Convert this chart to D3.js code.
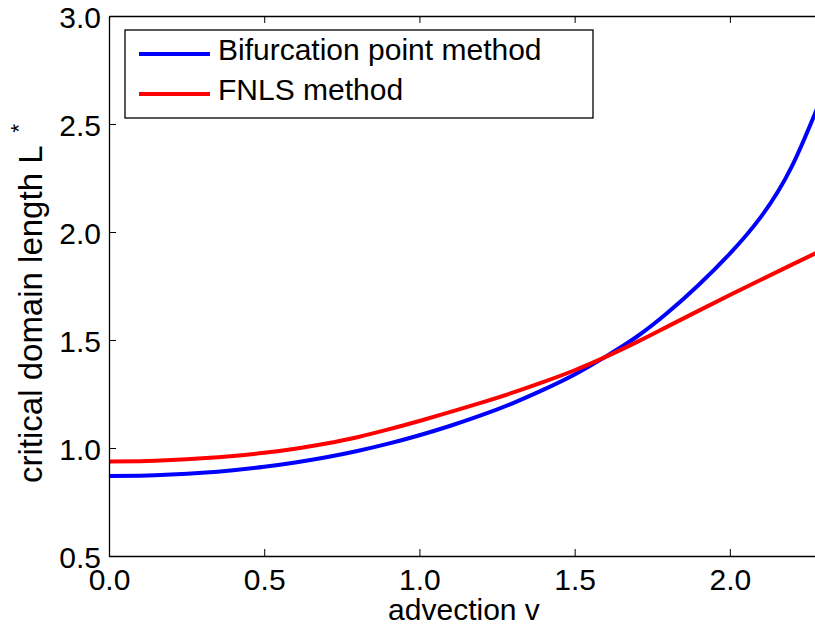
<!DOCTYPE html>
<html>
<head>
<meta charset="utf-8">
<script src="https://cdn.jsdelivr.net/npm/d3@7/dist/d3.min.js"></script>
<style>
  html, body { margin: 0; padding: 0; background: #fff; }
  svg { display: block; }
  text { font-family: "Liberation Sans", Arial, Helvetica, sans-serif; fill: #000; }
</style>
</head>
<body>
<svg id="chart" width="815" height="628"></svg>
<script>
// ---- data ----
const advection = [0.0, 0.1, 0.2, 0.3, 0.4, 0.5, 0.6, 0.7, 0.8, 0.9, 1.0, 1.1,
                   1.2, 1.3, 1.4, 1.5, 1.6, 1.7, 1.8, 1.9, 2.0, 2.1, 2.2, 2.3];
const bifurcationL = [0.870, 0.872, 0.877, 0.885, 0.897, 0.913, 0.933, 0.957, 0.986, 1.020, 1.059, 1.103,
                      1.152, 1.207, 1.270, 1.340, 1.423, 1.515, 1.627, 1.756, 1.900, 2.070, 2.305, 2.640];
const fnlsL = [0.937, 0.939, 0.944, 0.952, 0.963, 0.978, 0.997, 1.021, 1.050, 1.086, 1.125, 1.167,
               1.210, 1.256, 1.306, 1.360, 1.422, 1.490, 1.563, 1.636, 1.708, 1.779, 1.849, 1.918];
const seriesNames = ["Bifurcation point method", "FNLS method"];
const seriesColors = ["#0000ff", "#ff0000"];
const xTicks = [0, 0.5, 1.0, 1.5, 2.0];
const yTicks = [0.5, 1.0, 1.5, 2.0, 2.5, 3.0];
const xLabel = "advection v";
const yLabel = "critical domain length L";
const yLabelSup = "*";

// ---- layout ----
const svg = d3.select("#chart");
const pLeft = 109, pRight = 823, pTop = 16, pBottom = 556;
const x = d3.scaleLinear().domain([0, 2.3]).range([pLeft, pRight]);
const y = d3.scaleLinear().domain([0.5, 3.0]).range([pBottom, pTop]);
const fontSize = 30;

svg.append("defs").append("clipPath").attr("id", "clip")
  .append("rect").attr("x", pLeft).attr("y", pTop).attr("width", pRight - pLeft).attr("height", pBottom - pTop);

// curves
const series = [bifurcationL, fnlsL];
const line = d3.line().x((d, i) => x(advection[i])).y(d => y(d)).curve(d3.curveNatural);
const plot = svg.append("g").attr("clip-path", "url(#clip)");
series.forEach((s, k) => {
  plot.append("path").datum(s).attr("d", line)
    .attr("fill", "none").attr("stroke", seriesColors[k]).attr("stroke-width", 4)
    .attr("stroke-linejoin", "round");
});

// axes (MATLAB-like box with inward ticks)
const tickLen = 7;
const axB = svg.append("g").attr("transform", `translate(0,${pBottom})`)
  .call(d3.axisBottom(x).tickValues(xTicks).tickFormat(d3.format(".1f")).tickSizeInner(-tickLen).tickSizeOuter(0));
const axT = svg.append("g").attr("transform", `translate(0,${pTop})`)
  .call(d3.axisTop(x).tickValues(xTicks).tickFormat("").tickSizeInner(-tickLen).tickSizeOuter(0));
const axL = svg.append("g").attr("transform", `translate(${pLeft},0)`)
  .call(d3.axisLeft(y).tickValues(yTicks).tickFormat(d3.format(".1f")).tickSizeInner(-tickLen).tickSizeOuter(0));
const axR = svg.append("g").attr("transform", `translate(${pRight},0)`)
  .call(d3.axisRight(y).tickValues(yTicks).tickFormat("").tickSizeInner(-tickLen).tickSizeOuter(0));

[axB, axT, axL, axR].forEach(a => {
  a.attr("font-family", null).attr("font-size", null);
  a.select(".domain").attr("stroke", "#000").attr("stroke-width", 1.3);
  a.selectAll(".tick line").attr("stroke", "#000").attr("stroke-width", 1);
});
axB.selectAll(".tick text").attr("font-size", fontSize)
  .attr("y", 34).attr("dy", null).attr("text-anchor", "middle");
axL.selectAll(".tick text").attr("font-size", fontSize)
  .attr("x", -8).attr("dy", null).attr("y", 11).attr("text-anchor", "end");

// axis labels
svg.append("text").attr("x", (x(0) + x(2.3)) / 2 - 2).attr("y", 620)
  .attr("text-anchor", "middle").attr("font-size", fontSize).text(xLabel);

const yl = svg.append("text").attr("transform", "translate(42,483) rotate(-90)")
  .attr("text-anchor", "start").attr("font-size", 33);
yl.append("tspan").text(yLabel);
yl.append("tspan").attr("dx", 13).attr("dy", -16).attr("font-size", 22).text(yLabelSup);

// legend
const lg = svg.append("g");
lg.append("rect").attr("x", 125).attr("y", 30).attr("width", 468).attr("height", 88)
  .attr("fill", "#fff").attr("stroke", "#000").attr("stroke-width", 1.3);
seriesNames.forEach((name, k) => {
  const ly = 54 + k * 40;
  lg.append("line").attr("x1", 139).attr("x2", 210).attr("y1", ly).attr("y2", ly)
    .attr("stroke", seriesColors[k]).attr("stroke-width", 4);
  lg.append("text").attr("x", 218).attr("y", ly + 6)
    .attr("font-size", fontSize).text(name);
});
</script>
</body>
</html>
